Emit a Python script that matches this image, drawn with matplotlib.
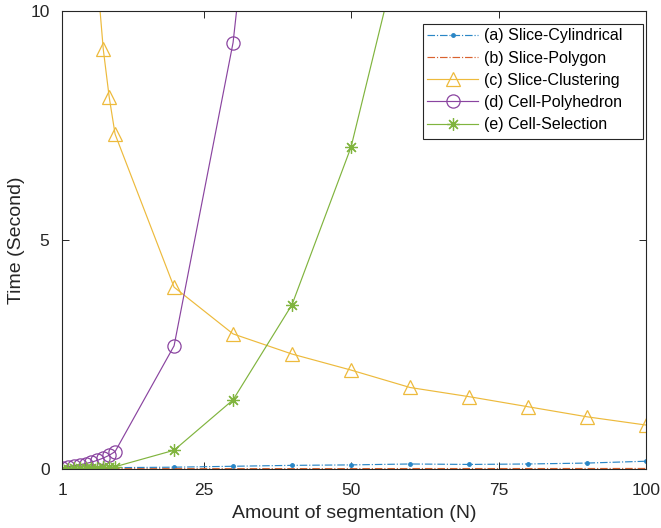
import matplotlib
matplotlib.use("Agg")
import matplotlib.pyplot as plt
from matplotlib.patches import Rectangle

plt.rcParams['font.family'] = ['Liberation Sans', 'DejaVu Sans']

# Segment counts at which timings were recorded
n_values = [1, 2, 3, 4, 5, 6, 7, 8, 9, 10, 20, 30, 40, 50, 60, 70, 80, 90, 100]

# Run times in seconds for each method
slice_cylindrical = [0.01, 0.01, 0.015, 0.015, 0.02, 0.02, 0.02, 0.025, 0.025, 0.03,
                     0.04, 0.06, 0.08, 0.09, 0.11, 0.10, 0.11, 0.13, 0.17]
slice_polygon = [0.005, 0.005, 0.005, 0.005, 0.005, 0.006, 0.006, 0.006, 0.006, 0.007,
                 0.008, 0.008, 0.009, 0.009, 0.010, 0.010, 0.010, 0.011, 0.012]
slice_clustering = [70.0, 35.0, 24.0, 18.5, 15.0, 12.5, 10.7, 9.16, 8.12, 7.31,
                    3.97, 2.95, 2.51, 2.16, 1.78, 1.58, 1.36, 1.14, 0.96]
cell_polyhedron = [0.03, 0.05, 0.07, 0.09, 0.12, 0.15, 0.19, 0.24, 0.30, 0.38,
                   2.69, 9.31, 21.0, 45.0, 80.0, 130.0, 200.0, 290.0, 400.0]
cell_selection = [0.01, 0.01, 0.015, 0.02, 0.02, 0.025, 0.03, 0.035, 0.04, 0.05,
                  0.41, 1.51, 3.59, 7.03, 12.3, 20.0, 30.0, 42.0, 57.0]

x_ticks = [1, 25, 50, 75, 100]
y_ticks = [0, 5, 10]

c_blue = '#2A86C6'
c_orange = '#D9622F'
c_yellow = '#EDBA3C'
c_purple = '#8A44A0'
c_green = '#80B43E'

fig = plt.figure(figsize=(6.61, 5.28), dpi=100)
ax = fig.add_axes([0.0938, 0.1117, 0.8835, 0.8675])

lw = 0.85
ax.plot(n_values, slice_cylindrical, color=c_blue, linestyle='-.', linewidth=lw,
        marker='.', markersize=5, label='(a) Slice-Cylindrical')
ax.plot(n_values, slice_polygon, color=c_orange, linestyle='-.', linewidth=lw,
        label='(b) Slice-Polygon')
ax.plot(n_values, slice_clustering, color=c_yellow, linestyle='-', linewidth=lw,
        marker='^', markersize=9.5, markerfacecolor='none', markeredgewidth=0.9,
        label='(c) Slice-Clustering')
ax.plot(n_values, cell_polyhedron, color=c_purple, linestyle='-', linewidth=lw,
        marker='o', markersize=9.5, markerfacecolor='none', markeredgewidth=0.9,
        label='(d) Cell-Polyhedron')
ax.plot(n_values, cell_selection, color=c_green, linestyle='-', linewidth=lw,
        marker=(8, 2, 0), markersize=9, markeredgewidth=0.9,
        label='(e) Cell-Selection')

ax.set_xlim(1, 100)
ax.set_ylim(0, 10)
ax.set_xticks(x_ticks)
ax.set_yticks(y_ticks)

axis_color = '#262626'
for side in ax.spines.values():
    side.set_color(axis_color)
    side.set_linewidth(0.8)
ax.tick_params(direction='in', top=True, right=True, length=5, width=0.7,
               colors=axis_color, labelsize=12.5)
ax.tick_params(axis='x', pad=10)
ax.tick_params(axis='y', pad=9)

ax.set_xlabel('Amount of segmentation (N)', fontsize=14, color=axis_color, labelpad=5)
ax.set_ylabel('Time (Second)', fontsize=14, color=axis_color, labelpad=4)

# Legend entries without the default frame; a plain box is drawn behind them
leg = ax.legend(loc='upper left', bbox_to_anchor=(0.625, 0.962), fontsize=11.5,
                frameon=False, borderpad=0.0, labelspacing=0.45, handlelength=3.2,
                handletextpad=0.37, borderaxespad=0.0)
for text in leg.get_texts():
    text.set_color('#000000')
leg.set_zorder(6)
ax.add_patch(Rectangle((0.618, 0.72), 0.3765, 0.251, transform=ax.transAxes,
                       facecolor='white', edgecolor=axis_color, linewidth=0.8,
                       zorder=5))

fig.savefig('out.png', dpi=100)
